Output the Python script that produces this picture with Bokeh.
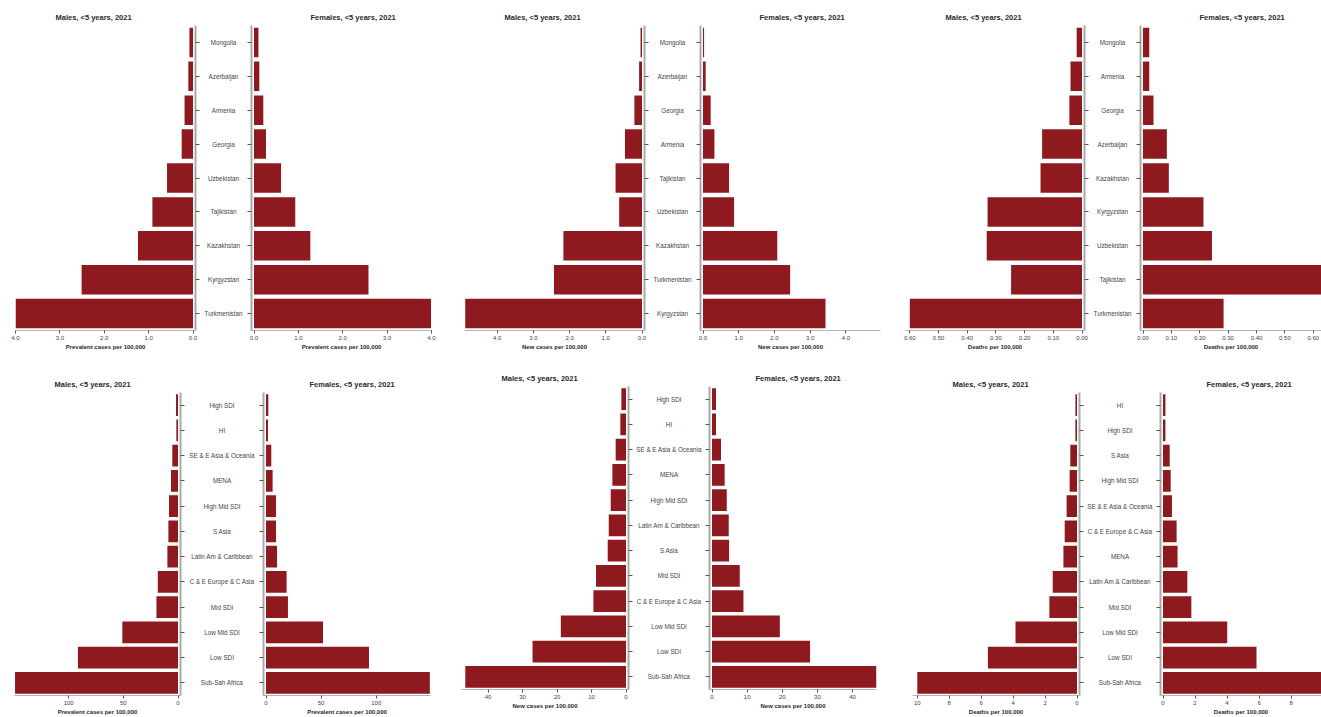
from bokeh.plotting import figure
from bokeh.layouts import row, column
from bokeh.models import (Range1d, FactorRange, FixedTicker, NumeralTickFormatter,
                          ColumnDataSource, Title, Spacer)
from bokeh.core.properties import value
from bokeh.embed import file_html
from bokeh.resources import INLINE

FONT = "Liberation Sans"
BAR_COLOR = "#8e1a1f"

# ---- Central Asia countries, children under 5, 2021 ----
prev_ctry = ["Mongolia", "Azerbaijan", "Armenia", "Georgia", "Uzbekistan",
             "Tajikistan", "Kazakhstan", "Kyrgyzstan", "Turkmenistan"]
prev_ctry_m = [0.08, 0.105, 0.19, 0.255, 0.585, 0.915, 1.24, 2.51, 4.0]
prev_ctry_f = [0.10, 0.12, 0.21, 0.27, 0.61, 0.93, 1.27, 2.58, 3.99]

inc_ctry = ["Mongolia", "Azerbaijan", "Georgia", "Armenia", "Tajikistan",
            "Uzbekistan", "Kazakhstan", "Turkmenistan", "Kyrgyzstan"]
inc_ctry_m = [0.04, 0.08, 0.21, 0.47, 0.73, 0.63, 2.17, 2.43, 4.88]
inc_ctry_f = [0.03, 0.075, 0.215, 0.32, 0.73, 0.87, 2.08, 2.44, 3.43]

death_ctry = ["Mongolia", "Armenia", "Georgia", "Azerbaijan", "Kazakhstan",
              "Kyrgyzstan", "Uzbekistan", "Tajikistan", "Turkmenistan"]
death_ctry_m = [0.0185, 0.040, 0.044, 0.139, 0.1445, 0.329, 0.332, 0.247, 0.60]
death_ctry_f = [0.022, 0.022, 0.037, 0.084, 0.091, 0.213, 0.243, 0.64, 0.284]

# ---- GBD regions and SDI groups, children under 5, 2021 ----
prev_reg = ["High SDI", "HI", "SE & E Asia & Oceania", "MENA", "High Mid SDI",
            "S Asia", "Latin Am & Caribbean", "C & E Europe & C Asia", "Mid SDI",
            "Low Mid SDI", "Low SDI", "Sub-Sah Africa"]
prev_reg_m = [1.8, 1.5, 5.2, 6.4, 8.2, 8.8, 9.7, 18.5, 19.7, 50.9, 91.5, 149.0]
prev_reg_f = [2.1, 1.8, 4.8, 6.0, 9.1, 9.1, 10.0, 18.7, 19.9, 51.7, 93.4, 148.6]

inc_reg = ["High SDI", "HI", "SE & E Asia & Oceania", "MENA", "High Mid SDI",
           "Latin Am & Caribbean", "S Asia", "Mid SDI", "C & E Europe & C Asia",
           "Low Mid SDI", "Low SDI", "Sub-Sah Africa"]
inc_reg_m = [1.35, 1.64, 3.0, 3.95, 4.43, 5.0, 5.3, 8.7, 9.45, 18.9, 27.1, 46.6]
inc_reg_f = [1.14, 1.14, 2.57, 3.6, 4.2, 4.76, 4.86, 7.9, 8.95, 19.3, 27.9, 46.8]

death_reg = ["HI", "High SDI", "S Asia", "High Mid SDI", "SE & E Asia & Oceania",
             "C & E Europe & C Asia", "MENA", "Latin Am & Caribbean", "Mid SDI",
             "Low Mid SDI", "Low SDI", "Sub-Sah Africa"]
death_reg_m = [0.10, 0.10, 0.42, 0.46, 0.65, 0.77, 0.85, 1.52, 1.73, 3.85, 5.58, 10.0]
death_reg_f = [0.15, 0.15, 0.42, 0.48, 0.56, 0.85, 0.91, 1.52, 1.77, 4.01, 5.84, 10.3]

# ---- axis ticks and labels ----
ticks_prev_ctry = [0, 1, 2, 3, 4]
ticks_inc_ctry = [0, 1, 2, 3, 4]
ticks_death_ctry = [0, 0.1, 0.2, 0.3, 0.4, 0.5, 0.6]
ticks_prev_reg = [0, 50, 100]
ticks_inc_reg = [0, 10, 20, 30, 40]
ticks_death_reg = [0, 2, 4, 6, 8, 10]

label_prev = "Prevalent cases per 100,000"
label_inc = "New cases per 100,000"
label_death = "Deaths per 100,000"
title_m = "Males, <5 years, 2021"
title_f = "Females, <5 years, 2021"

AXIS_GAP = 5      # border holding the category ticks
ZERO_PAD = 2.5    # pixels between the category axis and the zero of the bars


def side_figure(cats, vals, xmax, ticks, fmt, xlabel, male, frame_w, frame_h,
                borders, title, title_offset):
    bl, br, bt, bb = borders
    pad = ZERO_PAD * xmax / (frame_w - ZERO_PAD)
    xr = Range1d(xmax, -pad) if male else Range1d(-pad, xmax)
    p = figure(width=bl + frame_w + br, height=bt + frame_h + bb,
               x_range=xr, y_range=FactorRange(factors=cats[::-1]),
               toolbar_location=None, tools="", output_backend="svg",
               y_axis_location="right" if male else "left",
               min_border_left=bl, min_border_right=br,
               min_border_top=bt, min_border_bottom=bb,
               outline_line_color=None, background_fill_color="white",
               border_fill_color="white")
    p.hbar(y=cats, right=vals, left=0, height=0.87,
           fill_color=BAR_COLOR, line_color=None)
    p.xgrid.visible = False
    p.ygrid.visible = False

    xa = p.xaxis[0]
    xa.ticker = FixedTicker(ticks=ticks)
    xa.formatter = NumeralTickFormatter(format=fmt)
    xa.axis_label = xlabel
    xa.axis_label_text_font = FONT
    xa.axis_label_text_font_size = "6px"
    xa.axis_label_text_font_style = "bold"
    xa.axis_label_text_color = "#2a2a2a"
    xa.axis_label_standoff = 1
    xa.major_label_text_font = FONT
    xa.major_label_text_font_size = "6px"
    xa.major_label_text_color = "#444444"
    xa.major_label_standoff = 2
    xa.axis_line_color = "#b5b5b5"
    xa.axis_line_width = 1
    xa.major_tick_line_color = "#555555"
    xa.major_tick_in = 0
    xa.major_tick_out = 3
    xa.minor_tick_line_color = None

    # category axis: line and ticks only, the names sit in the middle column
    ya = p.yaxis[0]
    ya.axis_line_color = "#a9a9a9"
    ya.axis_line_width = 2
    ya.major_tick_line_color = "#555555"
    ya.major_tick_in = 0
    ya.major_tick_out = 4
    ya.major_label_text_color = None
    ya.major_label_text_font_size = "1px"
    ya.major_label_standoff = 0
    ya.minor_tick_line_color = None

    p.add_layout(Title(text=title, align="left", offset=title_offset,
                       text_font=FONT, text_font_size="7.5px",
                       text_font_style="bold", text_color="#2a2a2a",
                       standoff=8), "above")
    return p


def label_figure(cats, width, frame_h, bt, bb):
    p = figure(width=width, height=bt + frame_h + bb,
               x_range=Range1d(-1, 1), y_range=FactorRange(factors=cats[::-1]),
               toolbar_location=None, tools="", output_backend="svg",
               x_axis_location=None, y_axis_location=None,
               min_border_left=0, min_border_right=0,
               min_border_top=bt, min_border_bottom=bb,
               outline_line_color=None)
    p.xgrid.visible = False
    p.ygrid.visible = False
    src = ColumnDataSource(dict(y=cats, x=[0] * len(cats)))
    p.text(x="x", y="y", text="y", source=src, text_align="center",
           text_baseline="middle", text_font=value(FONT),
           text_font_size="6.3px", text_color="#454545")
    return p


def panel(cats, male, female, xmax_m, xmax_f, ticks, fmt, xlabel, geom,
          bt, fh, bb, f_title_offset, shift=0):
    start, m_l, m_r, f_l, f_r, end = geom
    pm = side_figure(cats, male, xmax_m, ticks, fmt, xlabel, True, m_r - m_l, fh,
                     (m_l - start, AXIS_GAP, bt, bb), title_m, 40)
    pl = label_figure(cats, (f_l - AXIS_GAP) - (m_r + AXIS_GAP), fh, bt, bb)
    pf = side_figure(cats, female, xmax_f, ticks, fmt, xlabel, False, f_r - f_l, fh,
                     (AXIS_GAP, end - f_r, bt, bb), title_f, f_title_offset)
    group = row(pm, pl, pf)
    if shift:
        return column(Spacer(width=end - start, height=shift), group)
    return group


top = row(
    panel(prev_ctry, prev_ctry_m, prev_ctry_f, 4.0, 4.0, ticks_prev_ctry, "0.0",
          label_prev, (0, 15, 195, 251, 431, 439), 25, 305, 26, 59),
    panel(inc_ctry, inc_ctry_m, inc_ctry_f, 4.9, 4.97, ticks_inc_ctry, "0.0",
          label_inc, (439, 464, 644, 700, 880, 888), 25, 305, 26, 59),
    panel(death_ctry, death_ctry_m, death_ctry_f, 0.615, 0.629, ticks_death_ctry,
          "0.00", label_death, (888, 905, 1084, 1140, 1321, 1321), 25, 305, 26, 59),
)

bottom = row(
    panel(prev_reg, prev_reg_m, prev_reg_f, 149.5, 149.2, ticks_prev_reg, "0",
          label_prev, (0, 14, 180, 263, 430, 438), 30, 304, 21, 46, shift=6),
    panel(inc_reg, inc_reg_m, inc_reg_f, 47.7, 46.8, ticks_inc_reg, "0",
          label_inc, (438, 461, 628, 709, 876, 884), 30, 304, 21, 46),
    panel(death_reg, death_reg_m, death_reg_f, 10.3, 9.9, ticks_death_reg, "0",
          label_death, (884, 912, 1079, 1160, 1321, 1321), 30, 304, 21, 46, shift=6),
)

layout = column(top, bottom)

open("out.html", "w").write(file_html(layout, INLINE))
